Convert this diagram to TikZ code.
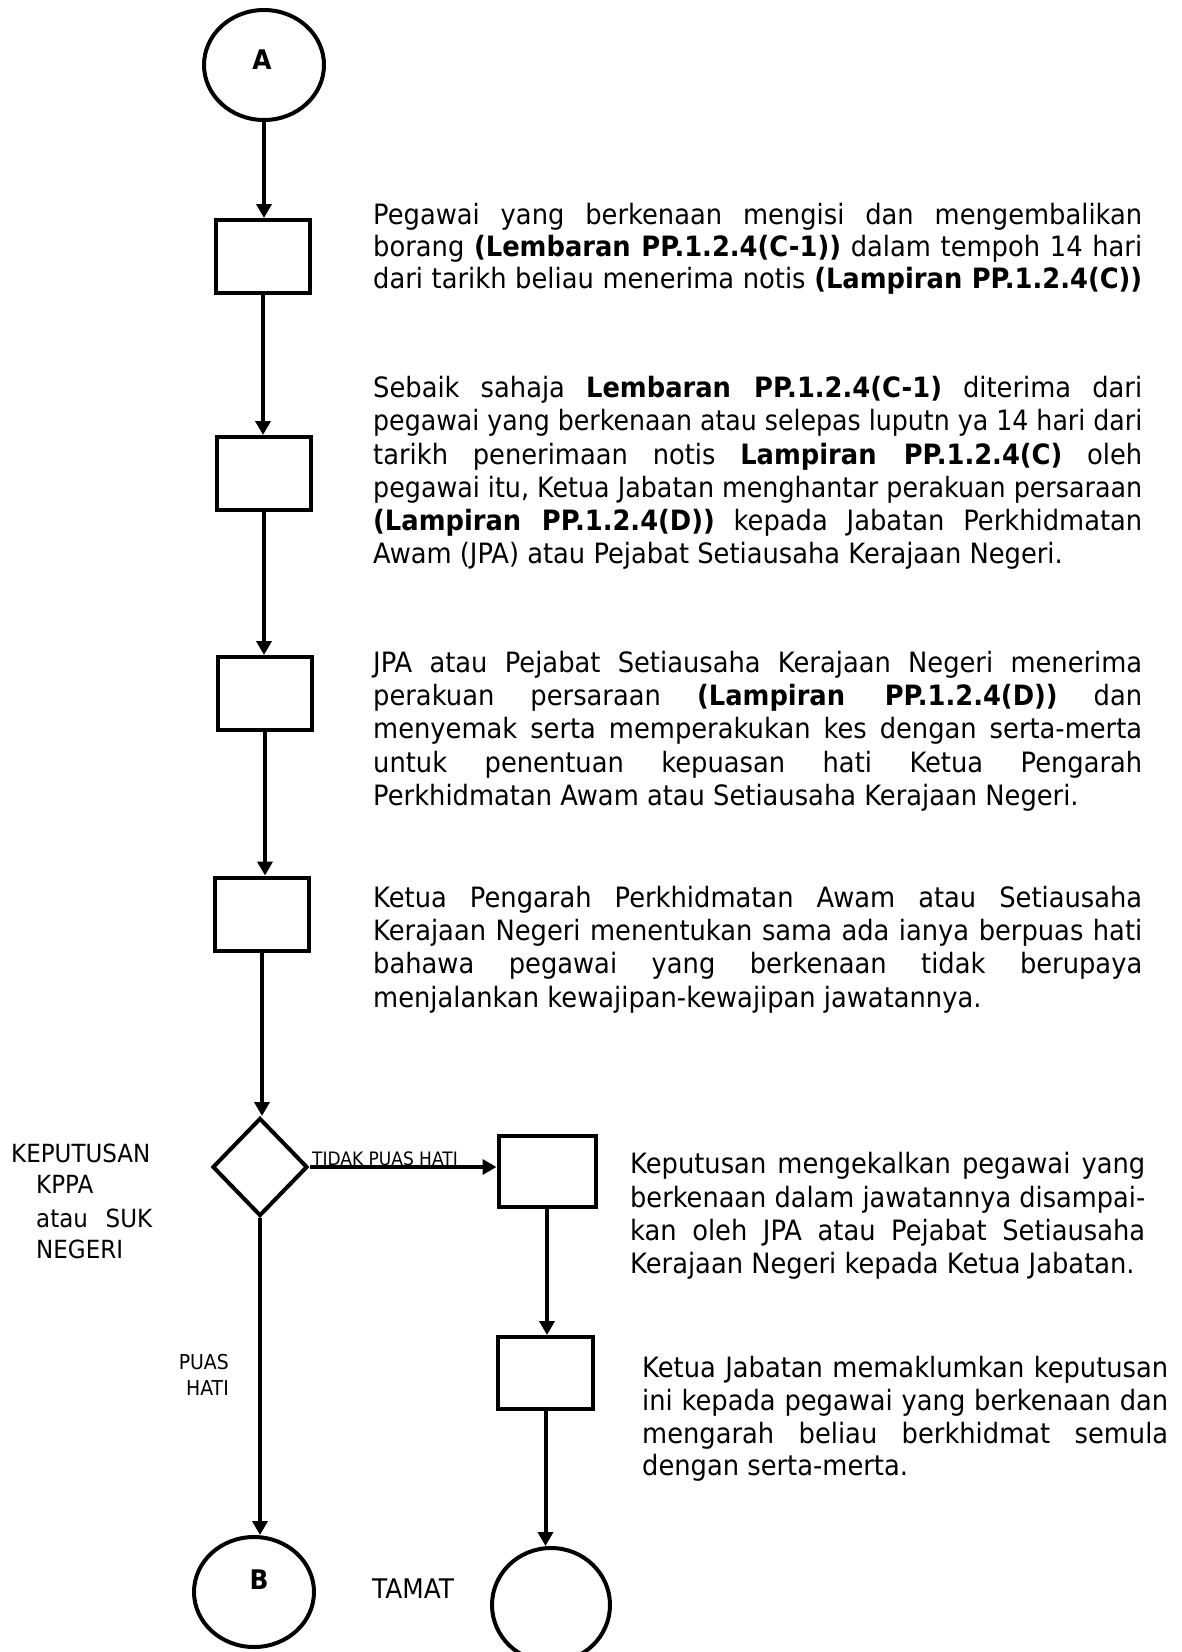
\documentclass[tikz,border=0pt]{standalone}
\usepackage{fontspec}
\usepackage{graphicx}
\setmainfont{DejaVu Sans}[FakeStretch=0.92]
\usetikzlibrary{arrows.meta,shapes.geometric}
\newcommand\JustLine[2]{%
  \setbox0\hbox{#2}%
  \ifdim\wd0>#1\relax
    \pgfmathsetmacro\myjratio{#1/\the\wd0}%
    \scalebox{\myjratio}[1]{\box0}%
  \else
    \makebox[#1][s]{#2}%
  \fi}
\begin{document}
\begin{tikzpicture}[x=1pt,y=-1pt,
  box/.style={draw, line width=4pt, minimum width=94pt, minimum height=73pt, inner sep=0pt},
  term/.style={ellipse, draw, line width=4pt, minimum width=120pt, minimum height=110pt, inner sep=0pt},
  dec/.style={diamond, draw, line width=4pt, minimum width=95pt, minimum height=98pt, inner sep=0pt},
  conn/.style={line width=4pt, -{Triangle[width=15pt,length=14pt]}},
  txt/.style={anchor=base west, inner sep=0pt, font=\fontsize{28}{33}\selectfont},
  lab/.style={inner sep=0pt, font=\fontsize{25}{30}\selectfont},
  circlab/.style={inner sep=0pt, font=\fontsize{27}{30}\selectfont\bfseries}]
\fill[white] (0,0) rectangle (1182,1652);
\useasboundingbox (0,0) rectangle (1182,1652);

% main column
\node[term] (A) at (264,65) {};
\node[circlab] (Alab) at (262,60) {A};
\node[box] (b1) at (263,256.5) {};
\node[box] (b2) at (264,473.5) {};
\node[box] (b3) at (265,693.5) {};
\node[box] (b4) at (262,914) {};
\node[dec] (dia) at (260,1167) {};
\node[term] (B) at (254,1592) {};
\node[circlab] (Blab) at (259,1580) {B};
\node[box, minimum width=97pt, minimum height=71pt] (b5) at (547,1171.5) {};
\node[box, minimum width=95pt, minimum height=72pt] (b6) at (545.5,1373) {};
\node[term, minimum width=118pt, minimum height=114pt] (E) at (551,1605) {};

% connectors
\draw[conn] (A.south) -- (A.south |- b1.north);
\draw[conn] (b1.south) -- (b1.south |- b2.north);
\draw[conn] (b2.south) -- (b2.south |- b3.north);
\draw[conn] (b3.south) -- (b3.south |- b4.north);
\draw[conn] (b4.south) -- (b4.south |- dia.north);
\draw[conn] (dia.south) -- (dia.south |- B.north);
\draw[conn] (dia.east) -- (dia.east -| b5.west);
\draw[conn] (b5.south) -- (b5.south |- b6.north);
\draw[conn] (b6.south) -- (b6.south |- E.north);

% labels on flow
\node[anchor=base west, inner sep=0pt, font=\fontsize{18.5}{20}\selectfont] (tph) at (312,1165) {TIDAK PUAS HATI};
\node[anchor=base east, inner sep=0pt, font=\fontsize{20.5}{24}\selectfont] (ph1) at (229,1369) {PUAS};
\node[anchor=base east, inner sep=0pt, font=\fontsize{20.5}{24}\selectfont] (ph2) at (229,1395) {HATI};
\node[anchor=base west, inner sep=0pt, font=\fontsize{27}{30}\selectfont] (tamat) at (372,1598) {TAMAT};

% decision label
\node[lab, anchor=base west] (k1) at (11,1162) {KEPUTUSAN};
\node[lab, anchor=base west] (k2) at (36,1193) {KPPA};
\node[lab, anchor=base west] (k3) at (36,1227) {\JustLine{116pt}{atau SUK}};
\node[lab, anchor=base west] (k4) at (36,1258) {NEGERI};

% block 1
\node[txt] (t1a) at (373,224) {\JustLine{769pt}{Pegawai yang berkenaan mengisi dan mengembalikan}};
\node[txt] (t1b) at (373,256) {\JustLine{769pt}{borang \textbf{(Lembaran PP.1.2.4(C-1))} dalam tempoh 14 hari}};
\node[txt] (t1c) at (373,288) {\JustLine{769pt}{dari tarikh beliau menerima notis \textbf{(Lampiran PP.1.2.4(C))}}};

% block 2
\node[txt] (t2a) at (373,397) {\JustLine{769pt}{Sebaik sahaja \textbf{Lembaran PP.1.2.4(C-1)} diterima dari}};
\node[txt] (t2b) at (373,430) {\JustLine{769pt}{pegawai yang berkenaan atau selepas luputn ya 14 hari dari}};
\node[txt] (t2c) at (373,464) {\JustLine{769pt}{tarikh penerimaan notis \textbf{Lampiran PP.1.2.4(C)} oleh}};
\node[txt] (t2d) at (373,497) {\JustLine{769pt}{pegawai itu, Ketua Jabatan menghantar perakuan persaraan}};
\node[txt] (t2e) at (373,530) {\JustLine{769pt}{\textbf{(Lampiran PP.1.2.4(D))} kepada Jabatan Perkhidmatan}};
\node[txt] (t2f) at (373,563) {Awam (JPA) atau Pejabat Setiausaha Kerajaan Negeri.};

% block 3
\node[txt] (t3a) at (373,672) {\JustLine{769pt}{JPA atau Pejabat Setiausaha Kerajaan Negeri menerima}};
\node[txt] (t3b) at (373,705) {\JustLine{769pt}{perakuan persaraan \textbf{(Lampiran PP.1.2.4(D))} dan}};
\node[txt] (t3c) at (373,738) {\JustLine{769pt}{menyemak serta memperakukan kes dengan serta-merta}};
\node[txt] (t3d) at (373,772) {\JustLine{769pt}{untuk penentuan kepuasan hati Ketua Pengarah}};
\node[txt] (t3e) at (373,805) {Perkhidmatan Awam atau Setiausaha Kerajaan Negeri.};

% block 4
\node[txt] (t4a) at (373,907) {\JustLine{769pt}{Ketua Pengarah Perkhidmatan Awam atau Setiausaha}};
\node[txt] (t4b) at (373,940) {\JustLine{769pt}{Kerajaan Negeri menentukan sama ada ianya berpuas hati}};
\node[txt] (t4c) at (373,973) {\JustLine{769pt}{bahawa pegawai yang berkenaan tidak berupaya}};
\node[txt] (t4d) at (373,1007) {menjalankan kewajipan-kewajipan jawatannya.};

% block 5
\node[txt] (t5a) at (630,1173) {\JustLine{515pt}{Keputusan mengekalkan pegawai yang}};
\node[txt] (t5b) at (630,1207) {\JustLine{515pt}{berkenaan dalam jawatannya disampai-}};
\node[txt] (t5c) at (630,1240) {\JustLine{515pt}{kan oleh JPA atau Pejabat Setiausaha}};
\node[txt] (t5d) at (630,1273) {Kerajaan Negeri kepada Ketua Jabatan.};

% block 6
\node[txt] (t6a) at (642,1377) {\JustLine{526pt}{Ketua Jabatan memaklumkan keputusan}};
\node[txt] (t6b) at (642,1410) {\JustLine{526pt}{ini kepada pegawai yang berkenaan dan}};
\node[txt] (t6c) at (642,1443) {\JustLine{526pt}{mengarah beliau berkhidmat semula}};
\node[txt] (t6d) at (642,1475) {dengan serta-merta.};
\end{tikzpicture}
\end{document}
